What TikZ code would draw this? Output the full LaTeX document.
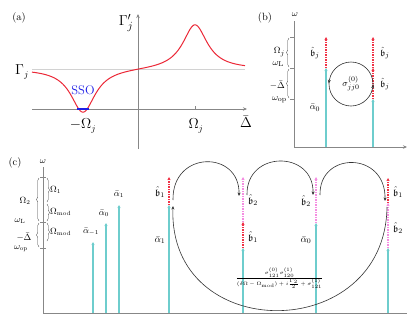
\documentclass[tikz,border=0pt]{standalone}
\usepackage{amsmath}
\usepackage{amssymb}
\usetikzlibrary{arrows.meta,decorations.pathreplacing,decorations.markings}
\definecolor{axisgray}{RGB}{135,135,135}
\definecolor{lightgray2}{RGB}{210,210,210}
\definecolor{curvered}{RGB}{235,40,55}
\definecolor{ssoblue}{RGB}{30,30,230}
\definecolor{cyanL}{RGB}{110,205,205}
\definecolor{redD}{RGB}{240,50,70}
\definecolor{pinkD}{RGB}{245,140,225}
\begin{document}
\begin{tikzpicture}[x=1pt,y=-1pt,
  ax/.style={draw=axisgray, line width=0.9pt},
  axarr/.style={ax, -{Stealth[length=4pt,width=3.5pt]}},
  tickm/.style={draw=axisgray, line width=0.6pt},
  brc/.style={decorate, decoration={brace, amplitude=2.5pt}, draw=black!75, line width=0.4pt},
  cyanarr/.style={draw=cyanL, line width=1.1pt, -{Stealth[length=3pt,width=3pt]}},
  redarr/.style={draw=redD, line width=1.1pt, dash pattern=on 1.5pt off 1pt, -{Stealth[length=3pt,width=3pt]}},
  pinkarr/.style={draw=pinkD, line width=1.1pt, dash pattern=on 1.5pt off 1pt, -{Stealth[length=3pt,width=3pt]}},
  hop/.style={draw=black!80, line width=0.6pt, -{Stealth[length=3.5pt,width=3pt]}},
  plab/.style={inner sep=0pt, font=\fontsize{10.5}{12}\selectfont},
  lblA/.style={inner sep=0pt, font=\fontsize{13.5}{15}\selectfont},
  lblBig/.style={inner sep=0pt, font=\fontsize{15.5}{17}\selectfont},
  lblB/.style={inner sep=0pt, font=\fontsize{9.5}{11}\selectfont},
  lblC/.style={inner sep=0pt, font=\fontsize{9}{10}\selectfont},
  lblCb/.style={inner sep=0pt, font=\fontsize{10}{11}\selectfont}
]
\useasboundingbox (0,0) rectangle (415,322);

% ---------------- panel (a) ----------------
\node[plab] (pa) at (19,18) {(a)};
\coordinate (aL) at (32,69);
\coordinate (aR) at (245,69);
\draw[draw=lightgray2, line width=0.8pt] (aL) -- (aR);
\coordinate (axL) at (32,109);
\coordinate (axR) at (247,109);
\coordinate (ayB) at (138,149);
\coordinate (ayT) at (138,14);
\draw[axarr] (axL) -- (axR);
\draw[axarr] (ayB) -- (ayT);
\coordinate (tk1) at (195,106);
\coordinate (tk1b) at (195,109);
\draw[tickm] (tk1) -- (tk1b);
\draw[curvered, line width=1pt] plot[domain=32:245, samples=160, smooth]
  (\x, {69 + 44/(1+((\x-83)/15)^2) - 45/(1+((\x-195)/15)^2)});
\coordinate (ssoL) at (77,109);
\coordinate (ssoR) at (89,109);
\draw[ssoblue, line width=1.6pt] (ssoL) -- (ssoR);
\node[lblA, text=ssoblue, font=\fontsize{12.5}{14}\selectfont] (sso) at (83,90.5) {SSO};
\node[lblBig] (gp) at (126,23) {$\Gamma'_j$};
\node[lblA] (gj) at (22,72) {$\Gamma_j$};
\node[lblA] (mo) at (83,126) {$-\Omega_j$};
\node[lblA] (po) at (196,126) {$\Omega_j$};
\node[lblBig] (dl) at (246,122) {$\bar{\Delta}$};

% ---------------- panel (b) ----------------
\node[plab] (pb) at (265,18) {(b)};
\node[lblB] (wb) at (295,15) {$\omega$};
\coordinate (bO) at (294,147);
\coordinate (bT) at (294,21);
\coordinate (bR) at (407,147);
\draw[ax] (bO) -- (bT);
\draw[axarr] (bO) -- (bR);
\coordinate (bt1) at (290,37);  \coordinate (bt1r) at (294,37);
\coordinate (bt2) at (290,68);  \coordinate (bt2r) at (294,68);
\coordinate (bt3) at (290,99);  \coordinate (bt3r) at (294,99);
\draw[tickm] (bt1) -- (bt1r);
\draw[tickm] (bt2) -- (bt2r);
\draw[tickm] (bt3) -- (bt3r);
\coordinate (bb1) at (289,67);
\coordinate (bb2) at (289,38);
\coordinate (bb3) at (289,98);
\coordinate (bb4) at (289,69);
\draw[brc] (bb1) -- (bb2);
\draw[brc] (bb3) -- (bb4);
\node[lblB, anchor=east] (bOm) at (285,52) {$\Omega_j$};
\node[lblB, anchor=east] (bwl) at (284,64) {$\omega_{\mathrm{L}}$};
\node[lblB, anchor=east] (bdl) at (285,85) {$-\bar{\Delta}$};
\node[lblB, anchor=east] (bwo) at (287,100) {$\omega_{\mathrm{op}}$};
% left column
\coordinate (b1b) at (326,147);
\coordinate (b1m) at (326,68);
\coordinate (b1t) at (326,37);
\draw[cyanarr] (b1b) -- (b1m);
\draw[redarr] (b1m) -- (b1t);
\node[lblB] (bb1l) at (315,53) {$\hat{\mathfrak{b}}_j$};
\node[lblB] (ba0) at (315,108) {$\bar{\alpha}_0$};
% right column
\coordinate (b2b) at (373,147);
\coordinate (b2m) at (373,99);
\coordinate (b2n) at (373,68);
\coordinate (b2t) at (373,37);
\draw[cyanarr] (b2b) -- (b2m);
\draw[redarr] (b2m) -- (b2n);
\draw[redarr] (b2n) -- (b2t);
\node[lblB] (bb2l) at (385,53) {$\hat{\mathfrak{b}}_j$};
\node[lblB] (bb3l) at (385,84) {$\hat{\mathfrak{b}}_j$};
% circle
\coordinate (bc) at (351,84);
\draw[black!80, line width=0.6pt,
  postaction={decorate, decoration={markings,
    mark=at position 0.03 with {\arrow{Stealth[length=3.5pt,width=3pt,reversed]}},
    mark=at position 0.53 with {\arrow{Stealth[length=3.5pt,width=3pt,reversed]}}}}]
  (bc) circle[radius=22];
\node[lblB] (bsig) at (351,84) {$\sigma^{(0)}_{jj0}$};

% ---------------- panel (c) ----------------
\node[plab] (pc) at (15,163) {(c)};
\node[lblC] (wc) at (43,162) {$\omega$};
\coordinate (cO) at (43,313);
\coordinate (cT) at (43,167);
\coordinate (cR) at (407,313);
\draw[ax] (cO) -- (cT);
\draw[ax] (cO) -- (cR);
\coordinate (ct1) at (40,177);  \coordinate (ct1r) at (46,177);
\coordinate (ct2) at (40,222);  \coordinate (ct2r) at (46,222);
\coordinate (ct3) at (40,248);  \coordinate (ct3r) at (46,248);
\draw[tickm] (ct1) -- (ct1r);
\draw[tickm] (ct2) -- (ct2r);
\draw[tickm] (ct3) -- (ct3r);
% left braces
\coordinate (cl1) at (39,221); \coordinate (cl2) at (39,178);
\coordinate (cl3) at (39,247); \coordinate (cl4) at (39,223);
\draw[brc] (cl1) -- (cl2);
\draw[brc] (cl3) -- (cl4);
% right braces
\coordinate (cr1) at (47,178); \coordinate (cr2) at (47,202);
\coordinate (cr3) at (47,204); \coordinate (cr4) at (47,221);
\coordinate (cr5) at (47,223); \coordinate (cr6) at (47,241);
\draw[brc] (cr1) -- (cr2);
\draw[brc] (cr3) -- (cr4);
\draw[brc] (cr5) -- (cr6);
\node[lblC] (cO2) at (25,201) {$\Omega_2$};
\node[lblC] (cwl) at (20,221) {$\omega_{\mathrm{L}}$};
\node[lblC] (cdl) at (24,237) {$-\bar{\Delta}$};
\node[lblC] (cwo) at (21,249) {$\omega_{\mathrm{op}}$};
\node[lblC, anchor=west] (cO1) at (50,190) {$\Omega_1$};
\node[lblC, anchor=west] (cM1) at (50,212) {$\Omega_{\mathrm{mod}}$};
\node[lblC, anchor=west] (cM2) at (50,232) {$\Omega_{\mathrm{mod}}$};
% pump lines
\coordinate (pm1b) at (93,313);  \coordinate (pm1t) at (93,242);
\coordinate (p0b) at (106,313);  \coordinate (p0t) at (106,223);
\coordinate (pp1b) at (119,313); \coordinate (pp1t) at (119,205);
\draw[cyanarr] (pm1b) -- (pm1t);
\draw[cyanarr] (p0b) -- (p0t);
\draw[cyanarr] (pp1b) -- (pp1t);
\node[lblC] (am1) at (91,232) {$\bar{\alpha}_{-1}$};
\node[lblC] (a0l) at (104,213) {$\bar{\alpha}_0$};
\node[lblC] (a1l) at (119,194) {$\bar{\alpha}_1$};
% column 1
\coordinate (k1b) at (169,313); \coordinate (k1m) at (169,205); \coordinate (k1t) at (169,177);
\draw[cyanarr] (k1b) -- (k1m);
\draw[redarr] (k1m) -- (k1t);
\node[lblCb] (k1l1) at (160,192) {$\hat{\mathfrak{b}}_1$};
\node[lblCb] (k1l2) at (160,240) {$\bar{\alpha}_1$};
% column 2
\coordinate (k2b) at (243,313); \coordinate (k2m) at (243,248); \coordinate (k2n) at (243,222); \coordinate (k2t) at (243,177);
\draw[cyanarr] (k2b) -- (k2m);
\draw[redarr] (k2m) -- (k2n);
\draw[pinkarr] (k2n) -- (k2t);
\node[lblCb] (k2l1) at (253,200) {$\hat{\mathfrak{b}}_2$};
\node[lblCb] (k2l2) at (253,237) {$\hat{\mathfrak{b}}_1$};
% column 3
\coordinate (k3b) at (316,313); \coordinate (k3m) at (316,223); \coordinate (k3t) at (316,177);
\draw[cyanarr] (k3b) -- (k3m);
\draw[pinkarr] (k3m) -- (k3t);
\node[lblCb] (k3l1) at (306,201) {$\hat{\mathfrak{b}}_2$};
\node[lblCb] (k3l2) at (306,240) {$\bar{\alpha}_0$};
% column 4
\coordinate (k4b) at (388,313); \coordinate (k4m) at (388,248); \coordinate (k4n) at (388,203); \coordinate (k4t) at (388,178);
\draw[cyanarr] (k4b) -- (k4m);
\draw[pinkarr] (k4m) -- (k4n);
\draw[redarr] (k4n) -- (k4t);
\node[lblCb] (k4l1) at (398,192) {$\hat{\mathfrak{b}}_1$};
\node[lblCb] (k4l2) at (398,228) {$\hat{\mathfrak{b}}_2$};
% hopping arcs
\coordinate (h1s) at (173,200); \coordinate (h1e) at (239,196);
\coordinate (h2s) at (247,195); \coordinate (h2e) at (313,195);
\coordinate (h3s) at (320,195); \coordinate (h3e) at (385,201);
\draw[hop] (h1s) .. controls (172,150) and (240,150) .. (h1e);
\draw[hop] (h2s) .. controls (246,150) and (314,150) .. (h2e);
\draw[hop] (h3s) .. controls (319,151) and (386,151) .. (h3e);
\coordinate (bgs) at (387,207); \coordinate (bge) at (173,206);
\draw[hop] (bgs) .. controls (385,345) and (168,345) .. (bge);
\node[inner sep=0pt, font=\fontsize{5.5}{6}\selectfont] (frac) at (279.5,278)
  {$\dfrac{\sigma^{(0)}_{121}\sigma^{(1)}_{120}}{(\delta\Omega-\Omega_{\mathrm{mod}})+i\frac{\Gamma_2}{2}+\sigma^{(1)}_{121}}$};
\end{tikzpicture}
\end{document}
